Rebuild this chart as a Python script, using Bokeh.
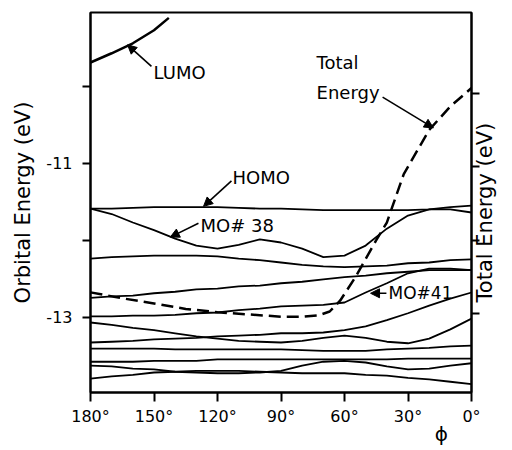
import math
from bokeh.plotting import figure
from bokeh.models import Range1d, LinearAxis, FixedTicker, Label, Arrow, NormalHead
from bokeh.embed import file_html
from bokeh.resources import INLINE

# ---- data ----
phi = [180, 170, 160, 150, 140, 130, 120, 110, 100, 90, 80, 70, 60, 50, 40, 30, 20, 10, 0]

homo = [-11.59, -11.59, -11.58, -11.57, -11.57, -11.57, -11.57, -11.58, -11.59, -11.59,
        -11.60, -11.61, -11.61, -11.61, -11.61, -11.61, -11.60, -11.57, -11.55]
mo38 = [-11.59, -11.66, -11.77, -11.87, -11.98, -12.07, -12.11, -12.06, -11.99, -12.03,
        -12.11, -12.22, -12.20, -12.07, -11.85, -11.68, -11.60, -11.60, -11.64]
mo_c = [-12.24, -12.22, -12.21, -12.20, -12.20, -12.20, -12.21, -12.24, -12.26, -12.29,
        -12.32, -12.34, -12.35, -12.34, -12.33, -12.30, -12.29, -12.26, -12.25]
mo_d = [-12.75, -12.73, -12.72, -12.69, -12.67, -12.64, -12.63, -12.60, -12.59, -12.56,
        -12.54, -12.51, -12.48, -12.46, -12.43, -12.41, -12.39, -12.39, -12.39]
mo41 = [-12.99, -12.99, -12.98, -12.98, -12.97, -12.95, -12.94, -12.91, -12.89, -12.86,
        -12.85, -12.84, -12.81, -12.68, -12.56, -12.43, -12.37, -12.37, -12.39]
mo_e = [-13.07, -13.10, -13.14, -13.17, -13.21, -13.25, -13.28, -13.31, -13.32, -13.33,
        -13.31, -13.27, -13.24, -13.27, -13.32, -13.34, -13.28, -13.16, -13.02]
mo_r = [-13.33, -13.32, -13.31, -13.29, -13.28, -13.27, -13.25, -13.24, -13.23, -13.21,
        -13.21, -13.20, -13.17, -13.12, -13.04, -12.95, -12.85, -12.76, -12.68]
mo_f = [-13.41, -13.41, -13.41, -13.41, -13.42, -13.42, -13.42, -13.42, -13.42, -13.42,
        -13.43, -13.44, -13.44, -13.44, -13.42, -13.41, -13.40, -13.38, -13.37]
mo_g = [-13.58, -13.58, -13.58, -13.57, -13.57, -13.57, -13.55, -13.55, -13.55, -13.55,
        -13.55, -13.55, -13.55, -13.55, -13.55, -13.54, -13.54, -13.54, -13.54]
mo_h = [-13.63, -13.64, -13.67, -13.68, -13.71, -13.72, -13.73, -13.73, -13.72, -13.70,
        -13.63, -13.58, -13.57, -13.59, -13.64, -13.68, -13.67, -13.63, -13.60]
mo_i = [-13.80, -13.77, -13.75, -13.72, -13.71, -13.70, -13.70, -13.70, -13.71, -13.72,
        -13.73, -13.73, -13.73, -13.75, -13.76, -13.79, -13.81, -13.84, -13.87]

lumo_phi = [180, 170, 160, 150, 143]
lumo = [-9.69, -9.57, -9.44, -9.27, -9.11]

tot_phi = [180, 165, 150, 135, 120, 105, 90, 80, 72, 67, 62, 55, 45, 40, 32, 20, 10, 0]
tot = [0.29, 0.21, 0.14, 0.065, 0.02, -0.01, -0.04, -0.04, -0.02, 0.03, 0.18, 0.49,
       1.00, 1.24, 1.90, 2.50, 2.82, 3.07]

x_ticks = [180, 150, 120, 90, 60, 30, 0]
x_tick_labels = ["180°", "150°", "120°", "90°", "60°", "30°", "0°"]
y_ticks = [-13, -12, -11, -10]
y_tick_labels = ["-13", "", "-11", ""]
tot_ticks = [0, 1, 2, 3]
phi_title = "ϕ"
tot_title = "Total Energy (eV)"

FONT = "DejaVu Sans"

p = figure(width=512, height=450, x_range=Range1d(180, 0), y_range=Range1d(-13.98, -9.04),
           output_backend="svg", toolbar_location=None,
           min_border_left=90, min_border_right=41, min_border_top=12, min_border_bottom=58,
           background_fill_color="white", border_fill_color="white")
p.grid.visible = False
p.outline_line_color = "black"
p.outline_line_width = 2
p.extra_y_ranges = {"tot": Range1d(-1.072, 4.098)}

def style_axis(ax):
    ax.axis_line_width = 2
    ax.axis_line_color = "black"
    ax.major_tick_line_width = 2
    ax.major_tick_line_color = "black"
    ax.major_tick_out = 8
    ax.major_tick_in = 0
    ax.minor_tick_line_color = None
    ax.major_label_text_font = FONT
    ax.major_label_text_font_size = "16px"
    ax.major_label_text_color = "black"
    ax.axis_label_text_font = FONT
    ax.axis_label_text_font_size = "21px"
    ax.axis_label_text_font_style = "normal"
    ax.axis_label_text_color = "black"

xa = p.xaxis[0]
style_axis(xa)
xa.ticker = FixedTicker(ticks=x_ticks)
xa.major_label_overrides = dict(zip(x_ticks, x_tick_labels))
xa.major_tick_out = 9
xa.major_label_standoff = 5

# second row below the tick labels, holding only the phi symbol
xa2 = LinearAxis(ticker=FixedTicker(ticks=[14.2]), major_label_overrides={14.2: phi_title})
style_axis(xa2)
xa2.axis_line_color = None
xa2.major_tick_line_color = None
xa2.major_tick_out = 0
xa2.major_label_standoff = -7
xa2.major_label_text_font_size = "20px"
p.add_layout(xa2, "below")

ya = p.yaxis[0]
style_axis(ya)
ya.ticker = FixedTicker(ticks=y_ticks)
ya.major_label_overrides = dict(zip(y_ticks, y_tick_labels))
ya.major_label_standoff = 10
ya.axis_label = "Orbital Energy (eV)"
ya.axis_label_standoff = 8

ra = LinearAxis(y_range_name="tot", ticker=FixedTicker(ticks=tot_ticks),
                major_label_overrides={t: "" for t in tot_ticks})
style_axis(ra)
ra.major_label_standoff = 0
p.add_layout(ra, "right")

# rotated title of the right axis, drawn as a single tick label
ra2 = LinearAxis(y_range_name="tot", ticker=FixedTicker(ticks=[0.154]),
                 major_label_overrides={0.154: tot_title})
style_axis(ra2)
ra2.axis_line_color = None
ra2.major_tick_line_color = None
ra2.major_tick_out = 0
ra2.major_label_standoff = 6
ra2.major_label_text_font_size = "21px"
ra2.major_label_text_baseline = "top"
ra2.major_label_orientation = math.pi / 2
p.add_layout(ra2, "right")

for series in [homo, mo38, mo_c, mo_d, mo41, mo_e, mo_r, mo_f, mo_g, mo_h, mo_i]:
    p.line(phi, series, line_color="black", line_width=1.8)
p.line(lumo_phi, lumo, line_color="black", line_width=2.5)
p.line(tot_phi, tot, y_range_name="tot", line_color="black", line_width=2.5, line_dash="12 6")

def label(x, y, text, size="18px"):
    p.add_layout(Label(x=x, y=y, text=text, text_font=FONT, text_font_size=size,
                       text_baseline="middle", text_align="left", text_color="black"))

def arrow(x0, y0, x1, y1):
    p.add_layout(Arrow(end=NormalHead(size=9, fill_color="black", line_color="black"),
                       x_start=x0, y_start=y0, x_end=x1, y_end=y1,
                       line_color="black", line_width=1.6))

label(150.2, -9.815, "LUMO")
arrow(151.2, -9.74, 162.5, -9.46)
label(112.9, -11.18, "HOMO")
arrow(113.4, -11.23, 126.6, -11.56)
label(128.0, -11.807, "MO# 38")
arrow(129.0, -11.78, 142.3, -11.96)
label(39.2, -12.69, "MO#41", size="17px")
arrow(40.2, -12.69, 47.7, -12.69)
label(73.2, -9.685, "Total")
label(73.2, -10.08, "Energy")
arrow(42.0, -10.14, 18.0, -10.54)

open("out.html", "w").write(file_html(p, INLINE))
